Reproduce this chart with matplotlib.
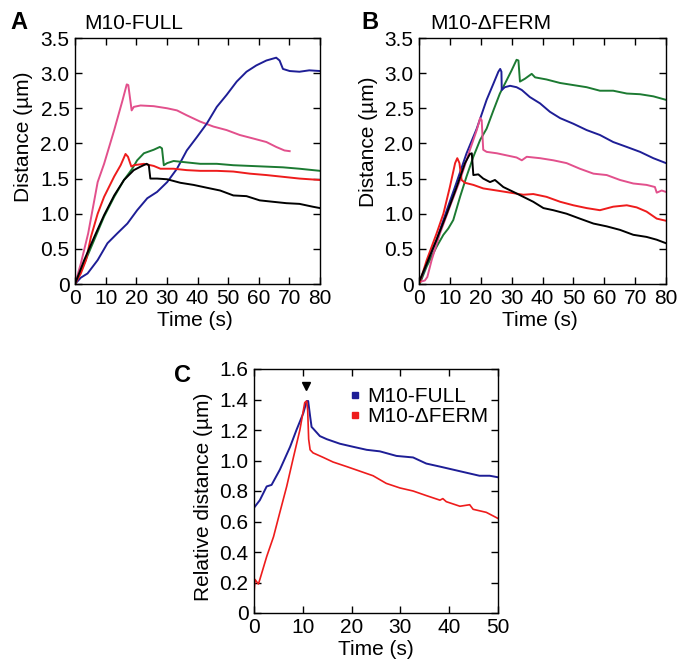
import matplotlib
matplotlib.use("Agg")
import matplotlib.pyplot as plt
from matplotlib.lines import Line2D

plt.rcParams['font.family'] = ['Liberation Sans', 'DejaVu Sans']

# ---------------- Panel A: M10-FULL ----------------
a_pink_t = [0, 1.9, 4.3, 7.4, 9.5, 12.8, 15.5, 16.9, 17.4, 18.5, 19.2, 21.4, 25.7, 30.1, 33.3, 36.5, 40.9, 45.2, 49.5, 53.8, 58.2, 62.5, 65.7, 68.4, 70.1]
a_pink_d = [0, 0.29, 0.72, 1.45, 1.71, 2.19, 2.61, 2.84, 2.83, 2.47, 2.52, 2.54, 2.53, 2.50, 2.47, 2.40, 2.31, 2.24, 2.19, 2.12, 2.07, 2.02, 1.95, 1.90, 1.89]

a_red_t = [0, 1.9, 3.6, 5.2, 7.4, 9.5, 12.8, 14.9, 16.5, 17.3, 18.4, 19.2, 22.5, 25.7, 27.9, 32.2, 36.5, 40.9, 46.3, 51.7, 57.1, 62.5, 69.0, 73.3, 80]
a_red_d = [0, 0.15, 0.34, 0.67, 1.00, 1.24, 1.53, 1.69, 1.85, 1.81, 1.67, 1.69, 1.71, 1.68, 1.64, 1.64, 1.62, 1.61, 1.61, 1.60, 1.57, 1.55, 1.52, 1.50, 1.48]

a_green_t = [0, 3, 6.3, 9.5, 12.8, 16, 18.7, 20.3, 22.5, 25.7, 27.7, 28.4, 29.0, 30.1, 32.2, 36.5, 40.9, 46.3, 51.7, 57.1, 62.5, 67.9, 73.3, 80]
a_green_d = [0, 0.29, 0.63, 0.96, 1.24, 1.48, 1.64, 1.76, 1.86, 1.91, 1.95, 1.93, 1.69, 1.72, 1.75, 1.73, 1.71, 1.71, 1.69, 1.68, 1.67, 1.66, 1.64, 1.61]

a_black_t = [0, 3, 6.3, 9.5, 12.8, 16, 19.2, 21.4, 23.4, 24.1, 24.6, 26.8, 30.1, 34.4, 38.7, 43.0, 47.4, 51.7, 56.0, 60.3, 64.6, 69.0, 73.3, 77.6, 80]
a_black_d = [0, 0.34, 0.67, 0.98, 1.26, 1.48, 1.62, 1.67, 1.71, 1.69, 1.50, 1.50, 1.49, 1.44, 1.41, 1.37, 1.33, 1.26, 1.25, 1.19, 1.17, 1.15, 1.14, 1.10, 1.08]

a_blue_t = [0, 1.9, 4.1, 7.4, 10.6, 13.8, 17.1, 20.3, 23.6, 26.8, 30.1, 33.3, 36.5, 39.8, 43.0, 46.3, 49.5, 52.8, 56.0, 59.2, 62.5, 65.7, 66.8, 67.9, 70.1, 73.3, 76.5, 80]
a_blue_d = [0, 0.09, 0.15, 0.34, 0.58, 0.72, 0.86, 1.05, 1.22, 1.31, 1.45, 1.64, 1.90, 2.09, 2.28, 2.52, 2.69, 2.88, 3.02, 3.11, 3.18, 3.22, 3.18, 3.06, 3.03, 3.02, 3.04, 3.03]

# ---------------- Panel B: M10-dFERM ----------------
b_blue_t = [0.3, 2.5, 5.7, 9.0, 12.2, 15.4, 18.7, 21.9, 24.1, 25.7, 26.3, 26.7, 26.8, 27.8, 29.5, 31.6, 33.3, 35.9, 39.2, 42.4, 45.7, 50.0, 54.3, 58.6, 62.9, 67.3, 71.6, 75.9, 80]
b_blue_d = [0.03, 0.29, 0.63, 1.05, 1.45, 1.86, 2.21, 2.62, 2.85, 3.02, 3.06, 3.02, 2.76, 2.80, 2.82, 2.80, 2.76, 2.66, 2.57, 2.45, 2.36, 2.28, 2.19, 2.12, 2.02, 1.95, 1.88, 1.79, 1.72]

b_green_t = [0.3, 2.5, 5.7, 7.9, 9.5, 11.1, 13.3, 15.4, 17.6, 19.8, 21.9, 24.1, 26.2, 28.4, 30.0, 31.6, 32.2, 32.7, 34.3, 36.5, 37.6, 41.3, 45.7, 50.0, 54.3, 58.6, 62.9, 67.3, 71.6, 75.9, 80]
b_green_d = [0.01, 0.25, 0.53, 0.70, 0.79, 0.91, 1.24, 1.53, 1.81, 2.05, 2.21, 2.47, 2.71, 2.90, 3.04, 3.19, 3.18, 2.88, 2.92, 2.99, 2.94, 2.91, 2.86, 2.83, 2.80, 2.75, 2.75, 2.71, 2.70, 2.67, 2.62]

b_pink_t = [0.3, 1.9, 2.7, 4.1, 6.8, 10.0, 13.3, 16.5, 18.7, 19.8, 20.3, 20.8, 21.9, 25.2, 28.4, 31.6, 33.3, 34.9, 39.2, 43.5, 47.8, 52.1, 56.5, 60.8, 65.1, 69.4, 73.7, 76.4, 77.0, 78.6, 80]
b_pink_d = [0.03, 0.05, 0.10, 0.34, 0.72, 1.10, 1.48, 1.91, 2.19, 2.36, 2.33, 1.91, 1.88, 1.86, 1.83, 1.80, 1.76, 1.81, 1.79, 1.76, 1.72, 1.64, 1.57, 1.55, 1.48, 1.43, 1.41, 1.38, 1.30, 1.33, 1.31]

b_red_t = [0.3, 2.5, 5.7, 7.9, 10.0, 11.7, 12.4, 13.1, 13.8, 14.9, 17.6, 20.8, 25.2, 29.5, 33.8, 37.0, 41.3, 45.7, 50.0, 54.3, 58.6, 62.9, 67.3, 70.5, 73.7, 77.0, 80]
b_red_d = [0.03, 0.34, 0.72, 1.00, 1.38, 1.72, 1.79, 1.72, 1.48, 1.44, 1.41, 1.36, 1.33, 1.30, 1.27, 1.28, 1.24, 1.17, 1.12, 1.08, 1.05, 1.10, 1.12, 1.09, 1.03, 0.93, 0.90]

b_black_t = [0.3, 2.5, 5.7, 9.0, 12.2, 14.9, 16.5, 17.1, 17.6, 19.2, 20.8, 23.0, 24.6, 27.3, 30.6, 33.8, 37.0, 40.3, 43.5, 47.8, 52.1, 56.5, 60.8, 65.1, 69.4, 73.7, 77.0, 80]
b_black_d = [0.06, 0.29, 0.63, 1.00, 1.38, 1.72, 1.85, 1.86, 1.55, 1.56, 1.50, 1.45, 1.48, 1.38, 1.31, 1.24, 1.17, 1.08, 1.05, 1.00, 0.93, 0.86, 0.82, 0.77, 0.70, 0.67, 0.63, 0.58]

# ---------------- Panel C: relative distance ----------------
c_full_t = [0, 1.2, 2.6, 3.6, 5.3, 7.4, 8.7, 10.1, 10.8, 11.1, 11.5, 11.8, 12.1, 13.5, 14.9, 17.6, 20.3, 23.1, 25.8, 29.2, 32.6, 35.3, 38.1, 40.8, 43.5, 46.2, 48.3, 50]
c_full_d = [0.69, 0.74, 0.83, 0.84, 0.94, 1.09, 1.20, 1.31, 1.39, 1.39, 1.29, 1.22, 1.21, 1.16, 1.14, 1.11, 1.09, 1.07, 1.06, 1.03, 1.02, 0.98, 0.96, 0.94, 0.92, 0.90, 0.90, 0.89]

c_dferm_t = [0, 0.2, 0.9, 1.2, 2.6, 4.0, 5.3, 6.7, 8.0, 9.4, 10.4, 10.8, 11.0, 11.2, 11.5, 12.1, 14.2, 16.2, 19.0, 21.7, 24.4, 27.1, 29.9, 32.6, 35.3, 38.1, 38.7, 39.4, 42.2, 44.2, 44.9, 47.6, 50]
c_dferm_d = [0.13, 0.22, 0.19, 0.22, 0.37, 0.50, 0.66, 0.83, 1.01, 1.20, 1.38, 1.39, 1.33, 1.14, 1.07, 1.05, 1.02, 0.99, 0.96, 0.93, 0.90, 0.85, 0.82, 0.80, 0.77, 0.74, 0.75, 0.73, 0.70, 0.71, 0.68, 0.66, 0.62]

arrow_t = [10.6]
arrow_d = [1.49]

# ticks
ab_xticks = [0, 10, 20, 30, 40, 50, 60, 70, 80]
ab_xticklabels = ['0', '10', '20', '30', '40', '50', '60', '70', '80']
ab_yticks = [0, 0.5, 1.0, 1.5, 2.0, 2.5, 3.0, 3.5]
ab_yticklabels = ['0', '0.5', '1.0', '1.5', '2.0', '2.5', '3.0', '3.5']
c_xticks = [0, 10, 20, 30, 40, 50]
c_xticklabels = ['0', '10', '20', '30', '40', '50']
c_yticks = [0, 0.2, 0.4, 0.6, 0.8, 1.0, 1.2, 1.4, 1.6]
c_yticklabels = ['0', '0.2', '0.4', '0.6', '0.8', '1.0', '1.2', '1.4', '1.6']

PINK = '#e2508c'
RED = '#ee1c1c'
GREEN = '#1c7a32'
BLACK = '#000000'
BLUE = '#1e1e96'

W, H = 680, 661
fig = plt.figure(figsize=(W / 100, H / 100), dpi=100)


def px_axes(left, top, right, bottom):
    return fig.add_axes([left / W, 1 - bottom / H, (right - left) / W, (bottom - top) / H])


def style(ax, xt, xtl, yt, ytl, xlim, ylim, ylabel, ylab_xy, xlab_xy):
    ax.set_xlim(*xlim)
    ax.set_ylim(*ylim)
    ax.set_xticks(xt)
    ax.set_xticklabels(xtl)
    ax.set_yticks(yt)
    ax.set_yticklabels(ytl)
    ax.tick_params(direction='in', top=True, right=True, length=5, width=1,
                   labelsize=15)
    ax.tick_params(axis='x', pad=3.5)
    ax.tick_params(axis='y', pad=4)
    for s in ax.spines.values():
        s.set_linewidth(1)
    ax.set_xlabel('Time (s)', fontsize=15)
    ax.set_ylabel(ylabel, fontsize=15)
    ax.yaxis.set_label_coords(*ylab_xy)
    ax.xaxis.set_label_coords(*xlab_xy)


LW = 1.4
axA = px_axes(75, 38, 320, 284)
for t, d, c in [(a_pink_t, a_pink_d, PINK), (a_blue_t, a_blue_d, BLUE),
                (a_green_t, a_green_d, GREEN), (a_red_t, a_red_d, RED),
                (a_black_t, a_black_d, BLACK)]:
    axA.plot(t, d, color=c, lw=LW)
style(axA, ab_xticks, ab_xticklabels, ab_yticks, ab_yticklabels, (0, 80), (0, 3.5),
      'Distance (µm)', (-0.171, 0.60), (0.49, -0.108))

axB = px_axes(419, 38, 666, 284)
for t, d, c in [(b_green_t, b_green_d, GREEN), (b_blue_t, b_blue_d, BLUE),
                (b_pink_t, b_pink_d, PINK), (b_red_t, b_red_d, RED),
                (b_black_t, b_black_d, BLACK)]:
    axB.plot(t, d, color=c, lw=LW)
style(axB, ab_xticks, ab_xticklabels, ab_yticks, ab_yticklabels, (0, 80), (0, 3.5),
      'Distance (µm)', (-0.166, 0.58), (0.49, -0.108))

axC = px_axes(254, 369, 498, 613)
axC.plot(c_full_t, c_full_d, color=BLUE, lw=1.4)
axC.plot(c_dferm_t, c_dferm_d, color=RED, lw=1.2)
axC.plot(arrow_t, arrow_d, marker='v', color='black', markersize=6, linestyle='none')
style(axC, c_xticks, c_xticklabels, c_yticks, c_yticklabels, (0, 50), (0, 1.6),
      'Relative distance (µm)', (-0.168, 0.475), (0.5, -0.11))
handles = [Line2D([], [], marker='s', color=BLUE, linestyle='none', markersize=5),
           Line2D([], [], marker='s', color=RED, linestyle='none', markersize=5)]
axC.legend(handles, ['M10-FULL', 'M10-ΔFERM'], loc='upper right', frameon=False,
           fontsize=15, handlelength=0.6, handletextpad=0.3, labelspacing=0.05,
           borderaxespad=0.3, bbox_to_anchor=(1.02, 0.985))

# panel letters and titles
fig.text(10 / W, 1 - 29 / H, 'A', fontsize=17, fontweight='bold', va='baseline')
fig.text(84 / W, 1 - 29 / H, 'M10-FULL', fontsize=15, va='baseline')
fig.text(361 / W, 1 - 29 / H, 'B', fontsize=17, fontweight='bold', va='baseline')
fig.text(430 / W, 1 - 29 / H, 'M10-ΔFERM', fontsize=15, va='baseline')
fig.text(174 / W, 1 - 382 / H, 'C', fontsize=17, fontweight='bold', va='baseline')

fig.savefig('out.png', dpi=100)
